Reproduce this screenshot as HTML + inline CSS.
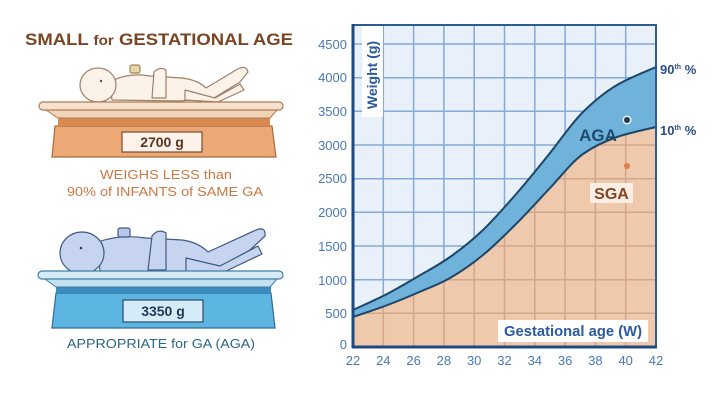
<!DOCTYPE html>
<html><head><meta charset="utf-8"><style>
html,body{margin:0;padding:0;background:#fff;}
svg{display:block;}
text{font-family:"Liberation Sans",sans-serif;}
</style></head><body>
<svg width="720" height="404" viewBox="0 0 720 404" xmlns="http://www.w3.org/2000/svg">
<defs>
<clipPath id="plot"><rect x="353" y="25" width="303" height="322"/></clipPath>
<clipPath id="peach"><path d="M353,317 C358.3,315.2 374.3,310 385,306 C395.7,302 406.2,297.7 417,293 C427.8,288.3 439,284.3 450,278 C461,271.7 471.8,264.2 483,255 C494.2,245.8 505.8,234.2 517,223 C528.2,211.8 539,199.7 550,188 C561,176.3 571.8,162 583,154 C594.2,146 604.8,141.3 617,137 C629.2,132.7 649.5,128.7 656,127 L656,347 L353,347 Z"/></clipPath>
</defs>
<rect width="720" height="404" fill="#fff"/>

<!-- LEFT: title -->
<text x="25" y="45" font-size="17" font-weight="bold" fill="#7b4424" textLength="268" lengthAdjust="spacingAndGlyphs">SMALL <tspan font-size="14">for</tspan> GESTATIONAL AGE</text>

<!-- baby 1 -->
<g stroke="#a08068" stroke-width="1.2" fill="#fbf2ea" stroke-linejoin="round">
<path d="M112,100 L110,82 Q128,72 150,76 L182,78 Q198,80 206,88 L236,70 Q246,64 248,72 L240,82 L214,98 L180,101 Z"/>
<path d="M185,90 L215,98 L240,84 L244,90 L218,102 L185,100 Z"/>
<ellipse cx="98" cy="85" rx="18" ry="17"/>
<path d="M152,98 L154,72 Q160,66 166,70 L166,98 Z"/>
<rect x="130" y="65" width="10" height="8" rx="2" fill="#e9d7a0"/>
</g>
<circle cx="101" cy="81" r="1.2" fill="#6a4a35"/>

<!-- scale 1 -->
<path d="M55,126 L272,126 L276,157 L52,157 Z" fill="#eca976" stroke="#a86a3e" stroke-width="1.2"/>
<rect x="58" y="118" width="212" height="8" fill="#d98a52"/>
<path d="M46,110 L277,110 L270,118 L58,118 Z" fill="#f1d4b8" stroke="#b07a52" stroke-width="1"/>
<rect x="39" y="102" width="244" height="8" rx="4" fill="#f6e2cf" stroke="#b07a52" stroke-width="1.2"/>
<rect x="122" y="132" width="80" height="20" fill="#fdf3ea" stroke="#7a4a30" stroke-width="1.2"/>
<text x="162" y="147" font-size="14" font-weight="bold" fill="#5a3520" text-anchor="middle">2700 g</text>

<text x="166" y="179" font-size="13" fill="#c97a44" text-anchor="middle" textLength="132" lengthAdjust="spacingAndGlyphs">WEIGHS LESS than</text>
<text x="165" y="196" font-size="13" fill="#c97a44" text-anchor="middle" textLength="196" lengthAdjust="spacingAndGlyphs">90% of INFANTS of SAME GA</text>

<!-- baby 2 -->
<g stroke="#3d5a85" stroke-width="1.2" fill="#c6d4ef" stroke-linejoin="round">
<path d="M100,272 L98,242 Q120,234 146,238 L182,240 Q198,242 208,252 L256,230 Q266,226 265,236 L250,250 L218,268 L184,273 Z"/>
<path d="M186,258 L220,266 L258,246 L262,254 L222,273 L186,272 Z"/>
<ellipse cx="82" cy="253" rx="22" ry="21"/>
<path d="M148,270 L152,236 Q158,228 166,233 L166,270 Z"/>
<rect x="118" y="228" width="12" height="9" rx="2" fill="#b8c8ea"/>
</g>
<circle cx="81" cy="248" r="1.3" fill="#2a3f60"/>

<!-- scale 2 -->
<path d="M56,293 L271,293 L275,328 L52,328 Z" fill="#5db6e2" stroke="#2d6b9a" stroke-width="1.2"/>
<rect x="56" y="287" width="215" height="6" fill="#3b8bc0"/>
<path d="M45,279 L277,279 L270,287 L56,287 Z" fill="#c4e1f0" stroke="#3f7ea8" stroke-width="1"/>
<rect x="38" y="271" width="245" height="8" rx="4" fill="#d6ebf5" stroke="#3f7ea8" stroke-width="1.2"/>
<rect x="123" y="300" width="80" height="22" fill="#d5ebf7" stroke="#2a4a6a" stroke-width="1.2"/>
<text x="163" y="316" font-size="14" font-weight="bold" fill="#1e3a55" text-anchor="middle">3350 g</text>

<text x="161" y="348" font-size="13" fill="#2d6585" text-anchor="middle" textLength="188" lengthAdjust="spacingAndGlyphs">APPROPRIATE for GA (AGA)</text>

<!-- CHART -->
<rect x="353" y="25" width="303" height="322" fill="#e8f0fa"/>
<g stroke="#86a9d6" stroke-width="1.5" clip-path="url(#plot)">
<line x1="383.3" y1="25" x2="383.3" y2="347"/><line x1="413.6" y1="25" x2="413.6" y2="347"/>
<line x1="443.9" y1="25" x2="443.9" y2="347"/><line x1="474.2" y1="25" x2="474.2" y2="347"/>
<line x1="504.5" y1="25" x2="504.5" y2="347"/><line x1="534.8" y1="25" x2="534.8" y2="347"/>
<line x1="565.1" y1="25" x2="565.1" y2="347"/><line x1="595.4" y1="25" x2="595.4" y2="347"/>
<line x1="625.7" y1="25" x2="625.7" y2="347"/>
<line x1="353" y1="44" x2="656" y2="44"/><line x1="353" y1="77.7" x2="656" y2="77.7"/>
<line x1="353" y1="111.3" x2="656" y2="111.3"/><line x1="353" y1="145" x2="656" y2="145"/>
<line x1="353" y1="178.7" x2="656" y2="178.7"/><line x1="353" y1="212.3" x2="656" y2="212.3"/>
<line x1="353" y1="246" x2="656" y2="246"/><line x1="353" y1="279.7" x2="656" y2="279.7"/>
<line x1="353" y1="313.3" x2="656" y2="313.3"/>
</g>
<!-- band -->
<path d="M353,310 C358.3,307.5 374.3,300.5 385,295 C395.7,289.5 406.2,283.3 417,277 C427.8,270.7 439,264.8 450,257 C461,249.2 471.8,240.7 483,230 C494.2,219.3 505.8,205.8 517,193 C528.2,180.2 539,166.8 550,153 C561,139.2 571.8,123 583,112 C594.2,101 604.8,92.2 617,85 C629.2,77.8 649.5,70 656,67 L656,347 L353,347 Z" fill="#6fb3da"/>
<!-- peach -->
<path d="M353,317 C358.3,315.2 374.3,310 385,306 C395.7,302 406.2,297.7 417,293 C427.8,288.3 439,284.3 450,278 C461,271.7 471.8,264.2 483,255 C494.2,245.8 505.8,234.2 517,223 C528.2,211.8 539,199.7 550,188 C561,176.3 571.8,162 583,154 C594.2,146 604.8,141.3 617,137 C629.2,132.7 649.5,128.7 656,127 L656,347 L353,347 Z" fill="#efc9ab"/>
<g stroke="#d2a68b" stroke-width="1.5" clip-path="url(#peach)">
<line x1="383.3" y1="25" x2="383.3" y2="347"/><line x1="413.6" y1="25" x2="413.6" y2="347"/>
<line x1="443.9" y1="25" x2="443.9" y2="347"/><line x1="474.2" y1="25" x2="474.2" y2="347"/>
<line x1="504.5" y1="25" x2="504.5" y2="347"/><line x1="534.8" y1="25" x2="534.8" y2="347"/>
<line x1="565.1" y1="25" x2="565.1" y2="347"/><line x1="595.4" y1="25" x2="595.4" y2="347"/>
<line x1="625.7" y1="25" x2="625.7" y2="347"/>
<line x1="353" y1="145" x2="656" y2="145"/>
<line x1="353" y1="178.7" x2="656" y2="178.7"/><line x1="353" y1="212.3" x2="656" y2="212.3"/>
<line x1="353" y1="246" x2="656" y2="246"/><line x1="353" y1="279.7" x2="656" y2="279.7"/>
<line x1="353" y1="313.3" x2="656" y2="313.3"/>
</g>
<!-- curves -->
<g fill="none" stroke="#1e4669" stroke-width="2">
<path d="M353,310 C358.3,307.5 374.3,300.5 385,295 C395.7,289.5 406.2,283.3 417,277 C427.8,270.7 439,264.8 450,257 C461,249.2 471.8,240.7 483,230 C494.2,219.3 505.8,205.8 517,193 C528.2,180.2 539,166.8 550,153 C561,139.2 571.8,123 583,112 C594.2,101 604.8,92.2 617,85 C629.2,77.8 649.5,70 656,67"/>
<path d="M353,317 C358.3,315.2 374.3,310 385,306 C395.7,302 406.2,297.7 417,293 C427.8,288.3 439,284.3 450,278 C461,271.7 471.8,264.2 483,255 C494.2,245.8 505.8,234.2 517,223 C528.2,211.8 539,199.7 550,188 C561,176.3 571.8,162 583,154 C594.2,146 604.8,141.3 617,137 C629.2,132.7 649.5,128.7 656,127"/>
</g>

<!-- labels inside plot -->
<rect x="362" y="26" width="21" height="91" fill="#ffffff"/>
<text transform="translate(377,75) rotate(-90)" font-size="14" font-weight="bold" fill="#2b5a9e" text-anchor="middle">Weight (g)</text>
<rect x="498" y="320" width="150" height="22" fill="#ffffff"/>
<text x="573" y="336" font-size="15" font-weight="bold" fill="#2b5aa0" text-anchor="middle" textLength="138" lengthAdjust="spacingAndGlyphs">Gestational age (W)</text>

<text x="598" y="141" font-size="17" font-weight="bold" fill="#1d4a6e" text-anchor="middle">AGA</text>
<circle cx="627" cy="120" r="4.5" fill="#e8f0fa"/>
<circle cx="627" cy="120" r="3" fill="#1e3a50"/>
<circle cx="627" cy="166" r="3" fill="#d8804a"/>
<rect x="590" y="183" width="43" height="20" fill="#fbeee4"/>
<text x="611.5" y="199" font-size="16" font-weight="bold" fill="#844522" text-anchor="middle">SGA</text>

<!-- frame -->
<rect x="353" y="25" width="303" height="322" fill="none" stroke="#2d5b95" stroke-width="2"/>
<line x1="353" y1="24" x2="353" y2="348" stroke="#1e4a82" stroke-width="3"/>
<line x1="352" y1="347" x2="657" y2="347" stroke="#1e4a82" stroke-width="3"/>

<!-- y ticks -->
<g font-size="13" fill="#4a78b5" text-anchor="end">
<text x="347" y="49">4500</text>
<text x="347" y="82">4000</text>
<text x="347" y="116">3500</text>
<text x="347" y="150">3000</text>
<text x="347" y="183">2500</text>
<text x="347" y="217">2000</text>
<text x="347" y="251">1500</text>
<text x="347" y="285">1000</text>
<text x="347" y="318">500</text>
<text x="347" y="349">0</text>
</g>
<!-- x ticks -->
<g font-size="13" fill="#4a78b5" text-anchor="middle">
<text x="353" y="365">22</text><text x="383.3" y="365">24</text><text x="413.6" y="365">26</text>
<text x="443.9" y="365">28</text><text x="474.2" y="365">30</text><text x="504.5" y="365">32</text>
<text x="534.8" y="365">34</text><text x="565.1" y="365">36</text><text x="595.4" y="365">38</text>
<text x="625.7" y="365">40</text><text x="656" y="365">42</text>
</g>
<!-- right labels -->
<text x="660" y="74" font-size="13" font-weight="bold" fill="#2b4f80">90<tspan font-size="7" dy="-5">th</tspan><tspan dy="5"> %</tspan></text>
<text x="660" y="135" font-size="13" font-weight="bold" fill="#2b4f80">10<tspan font-size="7" dy="-5">th</tspan><tspan dy="5"> %</tspan></text>
</svg>
</body></html>
